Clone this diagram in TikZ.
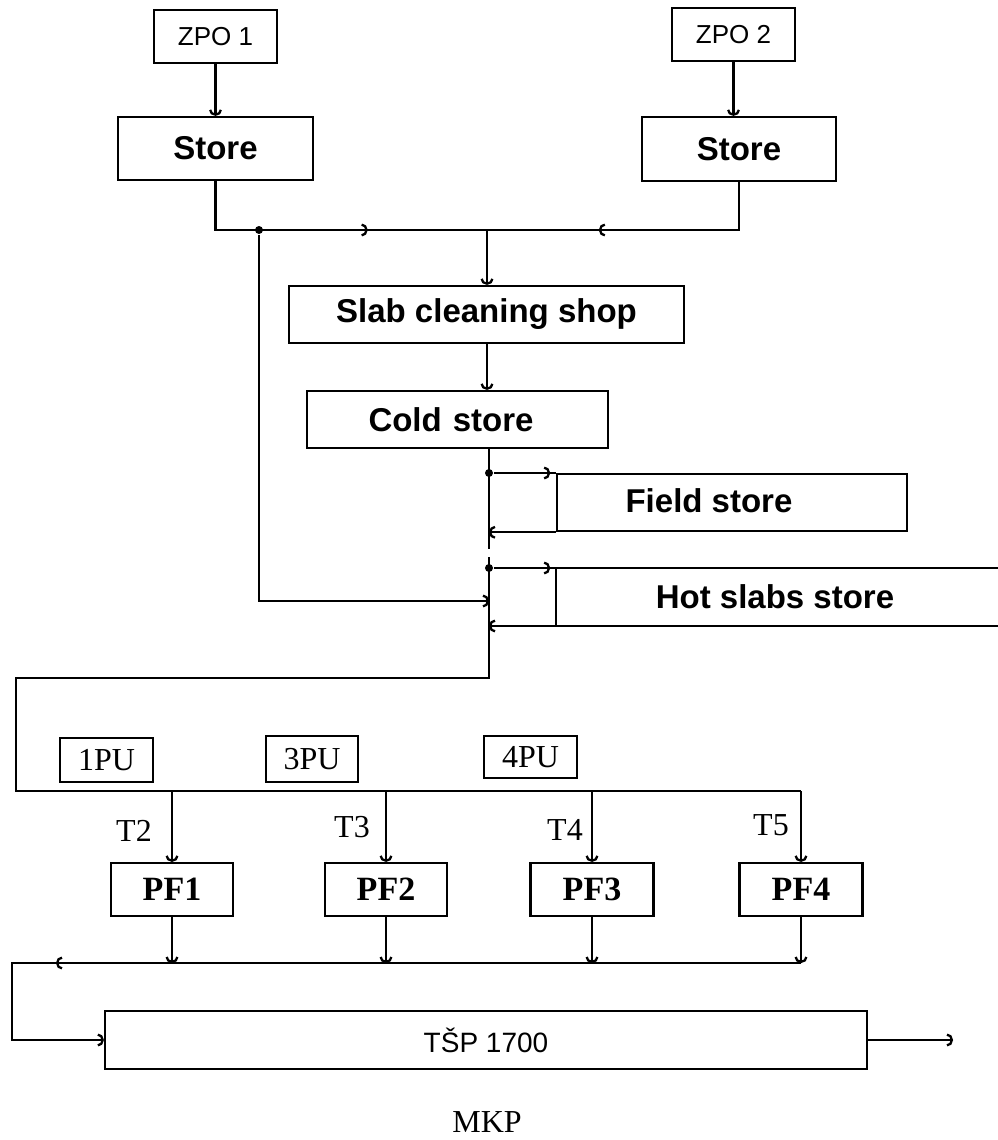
\documentclass[tikz,border=0pt]{standalone}
\usepackage{fontspec}
\setmainfont{Liberation Serif}
\setsansfont{Liberation Sans}
\usetikzlibrary{arrows.meta,decorations.markings}
\begin{document}
\begin{tikzpicture}[x=1pt,y=-1pt,line width=2.3pt,
  >={Arc Barb[length=6pt,width=13pt]},
  box/.style={draw,rectangle,inner sep=0pt},
  proc/.style={font=\sffamily\bfseries\fontsize{33}{36}\selectfont},
  lab/.style={font=\sffamily\fontsize{26}{30}\selectfont},
  ser/.style={font=\rmfamily\fontsize{32}{36}\selectfont},
  pfs/.style={font=\rmfamily\bfseries\fontsize{34}{38}\selectfont},
  tsps/.style={font=\sffamily\fontsize{28}{32}\selectfont},
  jdot/.style={circle,fill,inner sep=0pt,minimum size=8pt},
  midarr/.style={postaction={decorate},decoration={markings,mark=at position #1 with {\arrow{>}}}}]
\useasboundingbox (0,0) rectangle (998,1140);

% top sources
\node[box,lab,minimum width=123pt,minimum height=53pt] (zpo1) at (215.5,36.5) {ZPO 1};
\node[box,lab,minimum width=123pt,minimum height=53pt] (zpo2) at (733.5,34.5) {ZPO 2};
\node[box,proc,minimum width=195pt,minimum height=63pt] (store1) at (215.5,148.5) {Store};
\node[box,proc,minimum width=194pt,minimum height=64pt] (store2) at (739,149) {Store};
\node[box,proc,minimum width=395pt,minimum height=57pt] (slab) at (486.5,314.5) {Slab cleaning shop};
\node[box,proc,minimum width=301pt,minimum height=57pt,text width=290pt,align=left] (cold) at (457.5,419.5) {\hspace*{56pt}Cold store};

\draw[->] (zpo1) -- (store1);
\draw[->] (zpo2.south) -- (zpo2.south |- store2.north);

\coordinate (j1) at (487,230);
\node[jdot] (d1) at (259,230) {};
\draw[midarr=201pt] (store1.south) |- (j1);
\draw[midarr=188pt] (store2.south) |- (j1);
\draw[->] (j1) -- (j1 |- slab.north);
\draw[->] (j1 |- slab.south) -- (j1 |- cold.north);

% trunk
\coordinate (t0) at (489,448);
\coordinate (t1) at (489,549);
\coordinate (t2) at (489,557);
\coordinate (c1) at (489,678);
\coordinate (c2) at (16,678);
\coordinate (c3) at (16,791);
\coordinate (c4) at (801,791);
\draw (t0) -- (t1);
\draw (t2) -- (c1) -- (c2) -- (c3) -- (c4);

% field store
\node[jdot] (fdot) at (489,473) {};
\node[box,anchor=north west,minimum width=350pt,minimum height=57pt] (field) at (556,473) {};
\node[proc] (fieldtxt) at (709,501) {Field store};
\draw[midarr=56pt] (fdot) -- (field.north west);
\draw[->] (field.south west) -- (field.south west -| fdot);

% hot slabs store
\node[jdot] (hdot) at (489,568) {};
\coordinate (hotnw) at (556,568);
\coordinate (hotsw) at (556,626);
\coordinate (hotne) at (998,568);
\coordinate (hotse) at (998,626);
\draw (hotne) -- (hotnw) -- (hotsw) -- (hotse);
\node[proc] (hottxt) at (775,597) {Hot slabs store};
\draw[midarr=56pt] (hdot) -- (hotnw);
\draw[->] (hotsw) -- (hotsw -| hdot);
\coordinate (tin) at (489,601);
\draw[->] (d1) |- (tin);

% PU labels
\node[box,ser,minimum width=93pt,minimum height=44pt] (pu1) at (106.5,760) {1PU};
\node[box,ser,minimum width=92pt,minimum height=46pt] (pu3) at (312,759) {3PU};
\node[box,ser,minimum width=93pt,minimum height=42pt] (pu4) at (530.5,757) {4PU};

% PF boxes
\node[box,pfs,minimum width=122pt,minimum height=53pt] (pf1) at (172,889.5) {PF1};
\node[box,pfs,minimum width=122pt,minimum height=53pt] (pf2) at (386,889.5) {PF2};
\node[box,pfs,minimum width=123pt,minimum height=53pt] (pf3) at (592,889.5) {PF3};
\node[box,pfs,minimum width=123pt,minimum height=53pt] (pf4) at (801,889.5) {PF4};

\foreach \p in {pf1,pf2,pf3,pf4} {
  \draw[->] (\p.north |- c3) -- (\p.north);
}
\node[ser] (lt2) at (134,831) {T2};
\node[ser] (lt3) at (352,827) {T3};
\node[ser] (lt4) at (565,830) {T4};
\node[ser] (lt5) at (771,825) {T5};

% collector and TSP
\coordinate (b1) at (12,963);
\coordinate (b2) at (12,1040);
\node[box,tsps,minimum width=762pt,minimum height=58pt] (tsp) at (486,1040) {TŠP 1700};
\foreach \p in {pf1,pf2,pf3,pf4} {
  \draw[->] (\p.south) -- (\p.south |- b1);
}
\draw[midarr=745pt,->] (pf4.south |- b1) -- (b1) -- (b2) -- (tsp.west);
\coordinate (out) at (953,1040);
\draw[->] (tsp.east) -- (out);

\node[ser] (mkp) at (487,1122) {MKP};
\end{tikzpicture}
\end{document}
